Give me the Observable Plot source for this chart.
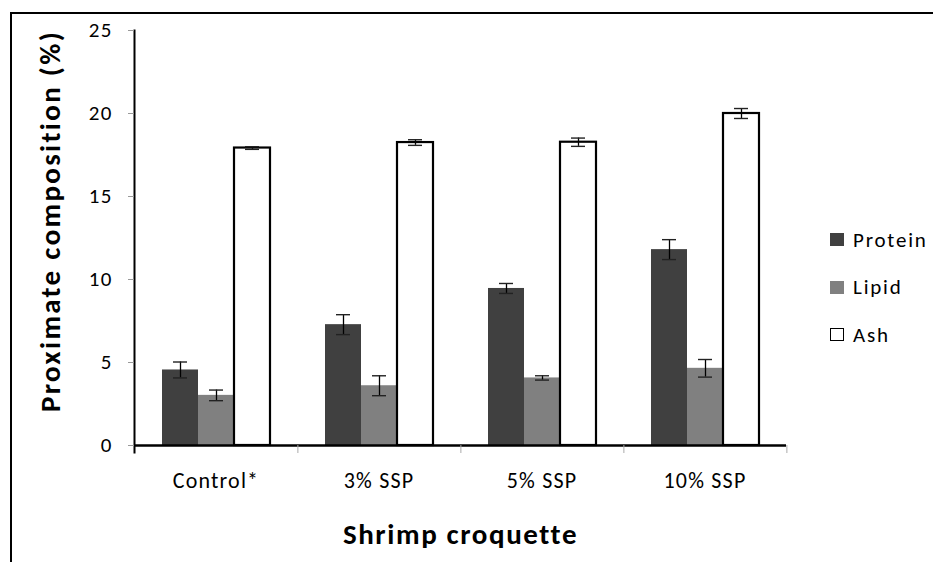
<!DOCTYPE html>
<html>
<head>
<meta charset="utf-8">
<script src="https://cdn.jsdelivr.net/npm/d3@7"></script>
<script src="https://cdn.jsdelivr.net/npm/@observablehq/plot@0.6"></script>
<style>
  html, body { margin: 0; padding: 0; background: #fff; }
  #wrap { position: relative; width: 933px; height: 562px; overflow: hidden; font-family: Carlito, Lato, sans-serif; }
  #border { position: absolute; left: 10px; top: 12px; width: 1000px; height: 700px; border-left: 2px solid #000; border-top: 2px solid #000; }
  #chart { position: absolute; left: 0; top: 0; }
  #chart svg text { letter-spacing: 1.2px; }
  #chart g[aria-label="y-axis label"] text, #chart g[aria-label="fx-axis label"] text { font-weight: bold; font-size: 29px; letter-spacing: 1.6px; }
  #chart g[aria-label="y-axis label"] text { letter-spacing: 2.3px; }
  #chart g[aria-label="y-axis label"] { translate: 0px -17px; }
  #legend { position: absolute; left: 830px; top: 216px; font-size: 21px; letter-spacing: 1.8px; color: #000; }
  #legend .item { display: flex; align-items: center; height: 47.5px; }
  #legend .sw { width: 14px; height: 13px; box-sizing: border-box; margin-right: 9px; }
</style>
</head>
<body>
<div id="wrap">
  <div id="border"></div>
  <div id="chart"></div>
  <div id="legend"></div>
</div>
<script>
// ---- data ----
const categories = ["Control*", "3% SSP", "5% SSP", "10% SSP"];
const series = ["Protein", "Lipid", "Ash"];
const proteinValues = [4.55, 7.28, 9.46, 11.8];
const proteinErrors = [0.48, 0.6, 0.3, 0.6];
const lipidValues = [3.02, 3.6, 4.07, 4.65];
const lipidErrors = [0.32, 0.6, 0.13, 0.53];
const ashValues = [17.92, 18.25, 18.27, 20.0];
const ashErrors = [0.08, 0.17, 0.25, 0.3];
const yTicks = [0, 5, 10, 15, 20, 25];
const seriesColors = ["#404040", "#808080", "#ffffff"];

const valuesBySeries = {Protein: proteinValues, Lipid: lipidValues, Ash: ashValues};
const errorsBySeries = {Protein: proteinErrors, Lipid: lipidErrors, Ash: ashErrors};
const rows = [];
categories.forEach((c, i) => series.forEach(s => rows.push({category: c, series: s, value: valuesBySeries[s][i], err: errorsBySeries[s][i]})));

const W = 933, H = 562, ML = 132, MR = 146, MT = 30, MB = 117;
const step = (W - ML - MR) / categories.length;

const chart = Plot.plot({
  width: W, height: H,
  marginLeft: ML, marginRight: MR, marginTop: MT, marginBottom: MB,
  style: {fontFamily: "Carlito, Lato, sans-serif", fontSize: "21px", color: "#000", background: "transparent"},
  fx: {domain: categories, padding: 0, label: null},
  x: {domain: series, paddingInner: 0, paddingOuter: 0.735, axis: null},
  y: {domain: [0, 25], axis: null},
  color: {domain: series, range: seriesColors},
  marks: [
    Plot.barY(rows.filter(d => d.series !== "Ash"), {fx: "category", x: "series", y: "value", fill: "series"}),
    Plot.barY(rows.filter(d => d.series === "Ash"), {fx: "category", x: "series", y: "value", fill: "series", stroke: "#000", strokeWidth: 2.2}),
    Plot.ruleX(rows, {fx: "category", x: "series", y1: d => d.value - d.err, y2: d => d.value + d.err, stroke: "#000", strokeWidth: 1.3}),
    Plot.tickY(rows, {fx: "category", x: "series", y: d => d.value + d.err, stroke: "#222", strokeWidth: 1.4, insetLeft: 11, insetRight: 11}),
    Plot.tickY(rows, {fx: "category", x: "series", y: d => d.value - d.err, stroke: "#222", strokeWidth: 1.4, insetLeft: 11, insetRight: 11}),
    Plot.ruleY([0], {stroke: "#000", strokeWidth: 2.5}),
    Plot.frame({anchor: "left", facetAnchor: "left", stroke: "#000", strokeWidth: 2, insetBottom: -7}),
    Plot.axisY({ticks: yTicks, tickSize: 6, tickPadding: 16, fontSize: 21, stroke: "#999", fill: "#000", label: "Proximate composition (%)", labelAnchor: "center", labelArrow: "none", labelOffset: 95}),
    Plot.axisFx({anchor: "bottom", tickSize: 0, tickPadding: 27, fontSize: 22, label: "Shrimp croquette", labelAnchor: "center", labelArrow: "none", labelOffset: 98}),
    Plot.axisFx({anchor: "bottom", tickSize: 8, tickFormat: () => "", label: null, dx: step / 2, stroke: "#aaa"})
  ]
});
document.getElementById("chart").appendChild(chart);

// legend
const legend = document.getElementById("legend");
series.forEach((s, i) => {
  const item = document.createElement("div");
  item.className = "item";
  const sw = document.createElement("span");
  sw.className = "sw";
  sw.style.background = seriesColors[i];
  if (s === "Ash") sw.style.border = "1.5px solid #000";
  const t = document.createElement("span");
  t.textContent = s;
  item.appendChild(sw); item.appendChild(t);
  legend.appendChild(item);
});
</script>
</body>
</html>
